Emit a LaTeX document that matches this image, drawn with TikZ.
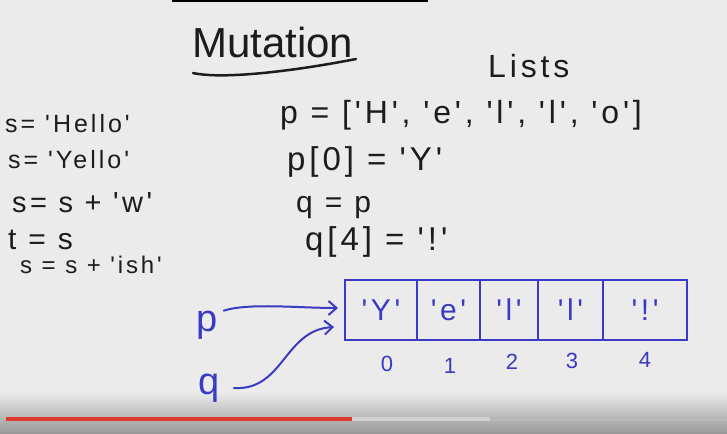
\documentclass[tikz,border=0pt]{standalone}
\usepackage{fontspec}
\setmainfont{Liberation Sans}
\newfontfamily\handfont[LetterSpace=12]{Liberation Sans}
\newfontfamily\titlefont{Liberation Sans}
\usepackage{tikz}
\usetikzlibrary{arrows.meta}
\definecolor{board}{HTML}{EBEBEB}
\definecolor{ink}{HTML}{1C1C1C}
\definecolor{marker}{HTML}{3A3AC2}
\definecolor{ytred}{HTML}{DD3B30}

\begin{document}
\begin{tikzpicture}[
  x=1pt, y=-1pt,
  txt/.style={font=\handfont\fontsize{#1}{#1}\selectfont, text=ink, anchor=west, inner sep=0},
  blu/.style={font=\handfont\fontsize{#1}{#1}\selectfont, text=marker, inner sep=0},
  cell/.style={draw=marker, line width=2pt, minimum height=60pt, inner sep=0,
    font=\handfont\fontsize{30}{30}\selectfont, text=marker},
  ptr/.style={draw=marker, line width=2pt, line cap=round,
    -{Straight Barb[length=8pt,width=14pt]}},
]
\useasboundingbox (0,0) rectangle (727,433);
% Tablica i pasek wideo
\fill[board] (0,0) rectangle (727,433);
\shade[top color=board, bottom color=black!40] (0,392) rectangle (727,433);
\fill[black] (172,0) rectangle (428,2.5);
\fill[ytred] (6,417) rectangle (352,421);
\fill[white!82!black] (352,417) rectangle (490,421);
\fill[black!28] (490,417) rectangle (727,421);
% Tytul
\node[font=\titlefont\fontsize{42}{42}\selectfont, text=ink, anchor=west, inner sep=0] (ttl) at (192,42) {Mutation};
\draw[ink, line width=2.5pt, line cap=round] (193,73) .. controls (225,80) and (300,70) .. (356,59);
\node[txt=32] (lists) at (488,66) {Lists};
% Napisy
\node[txt=25] (s1) at (5,124) {s= 'Hello'};
\node[txt=25] (s2) at (8,160) {s= 'Yello'};
\node[txt=29] (s3) at (12,203) {s= s + 'w'};
\node[txt=30] (s4) at (8,240) {t = s};
\node[txt=24] (s5) at (20,265) {s = s + 'ish'};
% Listy
\node[txt=32] (l1) at (280,115) {p = ['H', 'e', 'l', 'l', 'o']};
\node[txt=33] (l2) at (287,162) {p[0] = 'Y'};
\node[txt=30] (l3) at (296,208) {q = p};
\node[txt=33] (l4) at (305,242) {q[4] = '!'};
% Komorki listy
\node[cell, minimum width=72pt] (c0) at (381,310) {'Y'};
\node[cell, minimum width=63pt] (c1) at (448.5,310) {'e'};
\node[cell, minimum width=58pt] (c2) at (509,310) {'l'};
\node[cell, minimum width=65pt] (c3) at (570.5,310) {'l'};
\node[cell, minimum width=84pt] (c4) at (645,310) {'!'};
\node[blu=22] (i0) at (387,364) {0};
\node[blu=22] (i1) at (450,366) {1};
\node[blu=22] (i2) at (512,362) {2};
\node[blu=22] (i3) at (572,361) {3};
\node[blu=22] (i4) at (645,360) {4};
% Wskazniki
\node[blu=38] (pl) at (207,325) {p};
\node[blu=38] (ql) at (209,388) {q};
\draw[ptr] ([xshift=6pt]pl.north east) .. controls +(25,-8) and +(-40,0) .. ([xshift=-6pt,yshift=2pt]c0.west);
\draw[ptr] ([xshift=14pt]ql.east) .. controls +(50,3) and +(-50,3) .. ([xshift=-10pt,yshift=-17pt]c0.west);
\end{tikzpicture}
\end{document}
